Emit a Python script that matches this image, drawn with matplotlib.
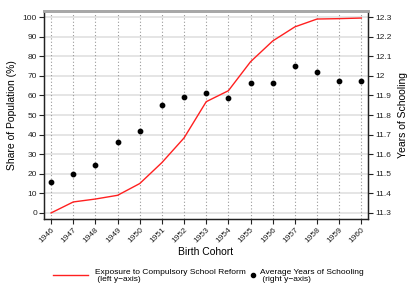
import matplotlib
matplotlib.use("Agg")
import matplotlib.pyplot as plt
from matplotlib.lines import Line2D

years = [1946, 1947, 1948, 1949, 1950, 1951, 1952, 1953, 1954, 1955, 1956, 1957, 1958, 1959, 1960]
exposure = [0, 5.6, 7.1, 9.0, 15.0, 25.7, 38.3, 56.8, 62.4, 77.2, 87.8, 95.0, 99.0, 99.2, 99.5]
schooling = [11.458, 11.499, 11.545, 11.661, 11.718, 11.851, 11.892, 11.911, 11.885,
             11.962, 11.962, 12.048, 12.018, 11.972, 11.972]
left_ticks = [0, 10, 20, 30, 40, 50, 60, 70, 80, 90, 100]
right_ticks = [11.3, 11.4, 11.5, 11.6, 11.7, 11.8, 11.9, 12.0, 12.1, 12.2, 12.3]
right_labels = ["11.3", "11.4", "11.5", "11.6", "11.7", "11.8", "11.9", "12", "12.1", "12.2", "12.3"]
legend_labels = ["Exposure to Compulsory School Reform\n (left y\u2212axis)",
                 "Average Years of Schooling\n (right y\u2212axis)"]

plt.rcParams['font.family'] = ['Liberation Sans', 'DejaVu Sans']

W, H = 415, 302
fig = plt.figure(figsize=(W/100, H/100), dpi=100)
ax = fig.add_axes([44/W, 1 - 219/H, (368-44)/W, (219-11)/H])
ax2 = ax.twinx()

ax.set_xlim(1945.68, 1960.3)
ax.set_ylim(-3.1, 103.1)
ax2.set_ylim(11.3 - 0.031, 12.3 + 0.031)

ax.set_yticks(left_ticks)
ax2.set_yticks(right_ticks)
ax2.set_yticklabels(right_labels)
ax.set_xticks(years)
ax.set_xticklabels([str(y) for y in years], rotation=45, ha='right', rotation_mode='anchor')

for y in left_ticks:
    ax.axhline(y, color='#e0e0e0', lw=1.2, zorder=0)
for x in years:
    ax.axvline(x, color='#999999', lw=0.8, ls=(0, (1, 2)), zorder=0)

ax.plot(years, exposure, color='#ff2020', lw=1.0, zorder=3)
ax2.scatter(years, schooling, s=10, color='black', zorder=4)

for a in (ax, ax2):
    a.tick_params(labelsize=6.0, length=3.5, width=0.8, colors='#222222', pad=1.5)
    for s in ('left', 'right', 'bottom'):
        a.spines[s].set_color('#222222')
        a.spines[s].set_linewidth(0.9)
    a.spines['top'].set_color('#a8a8a8')
    a.spines['top'].set_linewidth(2.0)

ax.set_ylabel("Share of Population (%)", fontsize=7.5, labelpad=4)
ax2.set_ylabel("Years of Schooling", fontsize=7.5, labelpad=5)
ax.set_xlabel("Birth Cohort", fontsize=7.5, labelpad=2)

# legend drawn in figure coordinates
fig.add_artist(Line2D([53/W, 88/W], [1 - 274.5/H, 1 - 274.5/H], color='#ff2020', lw=1.0,
                      transform=fig.transFigure))
fig.add_artist(Line2D([253/W], [1 - 275/H], marker='o', color='black', ls='none',
                      markersize=3, transform=fig.transFigure))
fig.text(95/W, 1 - 276/H, legend_labels[0], fontsize=6.0, ha='left', va='center',
         linespacing=1.0)
fig.text(260/W, 1 - 276/H, legend_labels[1], fontsize=6.0, ha='left', va='center',
         linespacing=1.0)

fig.savefig("out.png", dpi=100)
